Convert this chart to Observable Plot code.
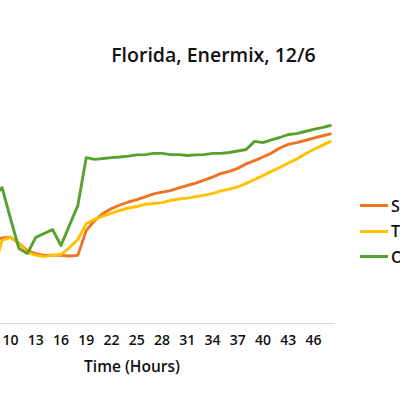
<!DOCTYPE html>
<html>
<head>
<meta charset="utf-8">
<script src="https://cdn.jsdelivr.net/npm/d3@7"></script>
<script src="https://cdn.jsdelivr.net/npm/@observablehq/plot@0.6"></script>
<style>
  html, body { margin: 0; padding: 0; background: #fff; }
  #wrap { position: relative; width: 400px; height: 400px; overflow: hidden; font-family: "Open Sans", "Noto Sans", sans-serif; }
  #title { position: absolute; left: 0; width: 427px; top: 41px; text-align: center; font-size: 19.5px; font-weight: 600; color: #111; }
  #xlabel { position: absolute; left: 32px; width: 200px; top: 355px; text-align: center; font-size: 15.5px; font-weight: 600; color: #111; }
  #legend { position: absolute; left: 360px; top: 193px; font-size: 16px; font-weight: 600; color: #111; }
  .row { display: flex; align-items: center; height: 25.5px; white-space: nowrap; }
  .sw { width: 28px; height: 3px; margin-right: 3px; }
  #chart { position: absolute; left: 0; top: 0; }
</style>
</head>
<body>
<div id="wrap">
  <div id="chart"></div>
  <div id="title">Florida, Enermix, 12/6</div>
  <div id="xlabel">Time (Hours)</div>
  <div id="legend"></div>
</div>
<script>
const hours = [8,9,10,11,12,13,14,15,16,17,18,19,20,21,22,23,24,25,26,27,28,29,30,31,32,33,34,35,36,37,38,39,40,41,42,43,44,45,46,47,48];
const seriesNames = ["Standard", "Treated", "Outside"];
const seriesColors = ["#EE7424", "#FFC000", "#5AA02E"];
const standard = [27.7,28.5,28.8,26.7,24.3,23.3,22.7,22.8,22.7,22.5,22.7,31.0,34.3,36.7,38.3,39.5,40.5,41.3,42.2,43.2,43.8,44.3,45.2,46.0,46.8,47.8,48.8,50.0,50.7,51.7,53.2,54.3,55.5,56.8,58.5,59.7,60.3,61.0,61.8,62.5,63.2];
const treated = [17.7,27.7,28.7,26.7,23.7,22.8,22.3,22.8,23.0,25.3,28.0,33.3,34.7,35.8,36.8,37.7,38.5,39.0,39.7,40.0,40.3,41.0,41.5,41.8,42.3,42.8,43.3,44.2,44.8,45.5,46.7,48.0,49.3,50.7,52.0,53.5,54.8,56.5,58.0,59.3,60.7];
const outside = [42.3,45.3,35.0,25.0,23.3,28.7,30.0,31.3,26.0,32.7,39.3,55.3,54.7,55.0,55.3,55.5,55.8,56.2,56.3,56.7,56.7,56.3,56.3,56.0,56.2,56.3,56.7,56.7,57.0,57.5,58.0,60.7,60.3,61.2,62.0,63.0,63.3,64.0,64.7,65.3,66.0];
const tickHours = [10,13,16,19,22,25,28,31,34,37,40,43,46];

const seriesValues = [standard, treated, outside];
const rows = [];
seriesNames.forEach((name, i) => {
  hours.forEach((h, j) => rows.push({hour: h, value: seriesValues[i][j], series: name}));
});

const chart = Plot.plot({
  width: 400,
  height: 400,
  marginLeft: 0,
  marginRight: 65,
  marginTop: 0,
  marginBottom: 77,
  style: {fontFamily: '"Open Sans", "Noto Sans", sans-serif', fontSize: "14px", color: "#111", background: "transparent"},
  x: {domain: [10, 46], range: [10, 313], label: null},
  y: {domain: [0, 100], range: [323, 23], axis: null},
  color: {domain: seriesNames, range: seriesColors},
  marks: [
    Plot.ruleY([0], {stroke: "#d9d9d9", strokeWidth: 1}),
    Plot.line(rows, {x: "hour", y: "value", stroke: "series", strokeWidth: 2.9, strokeLinejoin: "round", clip: true}),
    Plot.axisX({ticks: tickHours, tickSize: 0, tickPadding: 12, tickFormat: d => String(d), fontSize: 14, fontWeight: 600, fill: "#111", label: null})
  ]
});
document.getElementById("chart").appendChild(chart);

const legend = document.getElementById("legend");
seriesNames.forEach((name, i) => {
  const row = document.createElement("div");
  row.className = "row";
  const sw = document.createElement("div");
  sw.className = "sw";
  sw.style.background = seriesColors[i];
  const t = document.createElement("span");
  t.textContent = name;
  row.appendChild(sw);
  row.appendChild(t);
  legend.appendChild(row);
});
</script>
</body>
</html>
